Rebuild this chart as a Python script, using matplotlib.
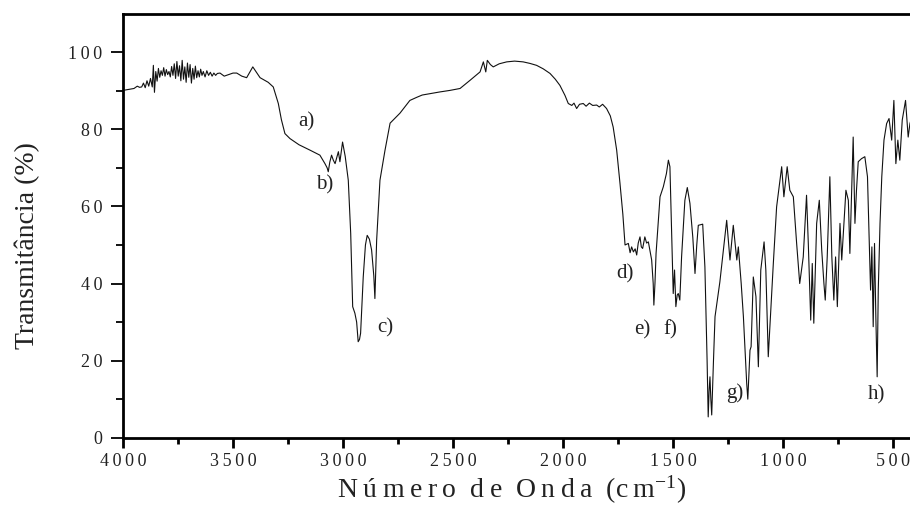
import matplotlib
matplotlib.use("Agg")
import matplotlib.pyplot as plt
from matplotlib.ticker import FixedLocator, FuncFormatter

plt.rcParams['font.family'] = ['Liberation Serif', 'DejaVu Serif']
plt.rcParams['mathtext.fontset'] = 'custom'
plt.rcParams['mathtext.rm'] = 'Liberation Serif'
plt.rcParams['mathtext.it'] = 'Liberation Serif:italic'

# --- data ---
wavenumber = [
    4000, 3970, 3950, 3935, 3925, 3915, 3907, 3899, 3891, 3883, 3875, 3867, 3862, 3857, 3851,
    3845, 3839, 3833, 3827, 3821, 3815, 3809, 3803, 3797, 3791, 3785, 3779, 3773, 3767, 3761,
    3755, 3749, 3743, 3737, 3731, 3725, 3719, 3713, 3707, 3701, 3695, 3689, 3683, 3677, 3671,
    3665, 3659, 3653, 3647, 3641, 3635, 3627, 3619, 3611, 3603, 3595, 3587, 3579, 3571, 3559,
    3540, 3520, 3500, 3483, 3460, 3438, 3410, 3377, 3340, 3317, 3294,
    3280, 3264, 3241, 3200, 3150, 3105, 3082, 3072, 3067, 3060, 3052, 3044, 3036, 3021, 3014,
    3002, 2990, 2976, 2965, 2956, 2946, 2938, 2931, 2925, 2920, 2908, 2898, 2890, 2880, 2870,
    2860, 2855, 2847, 2832, 2809, 2786, 2741, 2696, 2665, 2640, 2600, 2560, 2514, 2468, 2423,
    2377, 2362, 2351, 2344, 2330, 2317, 2290, 2256, 2220, 2181, 2150, 2120, 2090, 2059, 2035,
    2014, 1991, 1976, 1960, 1950, 1938, 1925, 1908, 1895, 1880, 1865, 1847, 1835, 1820, 1802,
    1785, 1772, 1756, 1741, 1728, 1718, 1703, 1695, 1688, 1680, 1672, 1665, 1658, 1650, 1644,
    1638, 1628, 1620, 1612, 1597, 1590, 1587, 1582, 1577, 1559, 1544, 1530, 1521, 1514, 1505,
    1499, 1493, 1487, 1481, 1476, 1469, 1461, 1446, 1435, 1423, 1410, 1400, 1392, 1385, 1365,
    1355, 1345, 1340, 1336, 1332, 1328, 1324, 1316, 1309, 1287, 1271, 1256, 1241, 1226, 1210,
    1203, 1190, 1180, 1165, 1160, 1150, 1145, 1135, 1123, 1112, 1101, 1086, 1078, 1067, 1044,
    1029, 1006, 996, 981, 969, 953, 938, 924, 908, 893, 885, 874, 867, 860, 847,
    835, 824, 814, 808, 799, 787, 778, 769, 761, 753, 741, 733, 714, 703, 696,
    688, 681, 673, 666, 658, 643, 628, 616, 608, 602, 596, 590, 584, 578, 572,
    567, 559, 551, 541, 529, 518, 506, 496, 487, 478, 469, 458, 443, 431, 423,
    410, 400,
]
transmittance = [
    90.1, 90.4, 90.6, 91.2, 90.9, 91.0, 92.0, 90.8, 92.6, 91.2, 93.2, 91.0, 96.6, 89.6, 95.0,
    92.5, 95.8, 93.5, 95.2, 94.0, 96.0, 93.8, 95.5, 94.2, 95.0, 93.6, 96.3, 94.0, 97.0, 93.2,
    97.6, 93.8, 96.5, 92.6, 97.9, 93.0, 96.2, 92.2, 97.2, 93.5, 96.8, 92.0, 95.8, 93.0, 96.4,
    93.4, 95.2, 93.6, 95.6, 94.0, 95.0, 93.6, 95.2, 94.0, 94.8, 93.8, 94.6, 94.0, 94.5, 94.6,
    93.8, 94.2, 94.6, 94.6, 93.8, 93.4, 96.2, 93.4, 92.2, 91.0, 86.7,
    82.5, 78.9, 77.6, 76.0, 74.6, 73.3, 71.1, 70.0, 69.0, 71.5, 73.3, 72.0, 71.1, 74.2, 71.6,
    76.7, 73.0, 66.8, 53.0, 34.0, 32.3, 30.0, 24.9, 25.5, 27.1, 41.7, 50.0, 52.5, 51.5, 48.7,
    42.0, 36.1, 51.3, 66.8, 74.6, 81.6, 84.2, 87.5, 88.3, 88.9, 89.3, 89.7, 90.1, 90.6, 92.7,
    94.9, 97.5, 94.9, 97.9, 96.8, 96.2, 97.0, 97.5, 97.7, 97.5, 97.1, 96.6, 95.7, 94.5, 93.0,
    91.4, 88.8, 86.7, 86.2, 86.8, 85.4, 86.5, 86.7, 86.0, 86.8, 86.2, 86.3, 85.8, 86.5, 85.4,
    83.5, 80.6, 74.6, 66.0, 58.0, 50.0, 50.4, 48.0, 49.5, 48.2, 49.0, 47.4, 50.5, 52.1, 49.5,
    49.1, 52.1, 50.5, 50.8, 46.1, 40.0, 34.4, 40.0, 47.8, 62.5, 65.1, 68.5, 72.0, 70.3, 50.0,
    37.4, 43.5, 34.0, 37.0, 37.4, 35.7, 46.9, 61.6, 64.9, 60.8, 52.0, 42.6, 50.0, 55.1, 55.4,
    44.3, 20.0, 5.4, 12.0, 15.8, 10.0, 5.9, 20.0, 31.4, 40.4, 48.7, 56.4, 46.1, 55.1, 46.1,
    49.5, 40.0, 31.4, 14.1, 10.0, 22.7, 23.6, 41.7, 36.6, 18.4, 43.5, 50.8, 43.5, 21.0, 45.2,
    59.9, 70.3, 62.5, 70.3, 64.2, 62.5, 50.4, 40.0, 46.9, 62.9, 50.4, 30.5, 45.2, 29.7, 55.6,
    61.6, 48.7, 40.0, 35.7, 46.9, 67.7, 46.9, 35.7, 46.9, 34.0, 55.6, 46.1, 64.2, 61.6, 47.8,
    64.2, 78.0, 55.6, 64.2, 71.6, 72.4, 72.9, 67.7, 50.4, 38.3, 49.5, 28.8, 50.4, 31.4, 15.8,
    38.3, 55.6, 67.7, 77.2, 81.5, 82.8, 77.2, 87.5, 71.1, 77.2, 72.0, 82.4, 87.5, 78.0, 81.5,
    84.0, 83.0,
]

band_labels = ["a)", "b)", "c)", "d)", "e)", "f)", "g)", "h)"]
band_x = [3168, 3082, 2809, 1718, 1641, 1514, 1218, 573]
band_y = [81.9, 65.5, 28.4, 42.6, 27.9, 27.9, 11.6, 11.1]

x_major = [4000, 3500, 3000, 2500, 2000, 1500, 1000, 500]
x_minor = [3750, 3250, 2750, 2250, 1750, 1250, 750]
y_major = [0, 20, 40, 60, 80, 100]
y_minor = [10, 30, 50, 70, 90]

xlabel = "N\u2009ú\u2009m\u2009e\u2009r\u2009o  d\u2009e  O\u2009n\u2009d\u2009a  (c\u2009m$^{-1}$)"
ylabel = "Transmitância (%)"

# --- figure ---
fig = plt.figure(figsize=(9.10, 5.17), dpi=100)
ax = fig.add_axes([123 / 910, 79.3 / 517, 792 / 910, 424 / 517])

ax.plot(wavenumber, transmittance, color="#111111", lw=0.8)

ax.set_xlim(4000, 400)
ax.set_ylim(0, 110)

ax.xaxis.set_major_locator(FixedLocator(x_major))
ax.xaxis.set_minor_locator(FixedLocator(x_minor))
ax.yaxis.set_major_locator(FixedLocator(y_major))
ax.yaxis.set_minor_locator(FixedLocator(y_minor))

spaced = FuncFormatter(lambda v, p: "\u2009".join(str(int(round(v)))))
ax.xaxis.set_major_formatter(spaced)
ax.yaxis.set_major_formatter(spaced)

for s in ["left", "bottom", "top"]:
    ax.spines[s].set_linewidth(2.0)
ax.spines["right"].set_visible(False)

ax.tick_params(axis="x", which="major", direction="out", length=7, width=2, pad=4,
               labelsize=13, labelcolor="#222222")
ax.tick_params(axis="x", which="minor", direction="out", length=4, width=2)
ax.tick_params(axis="y", which="major", direction="out", length=9, width=1.3, pad=6,
               labelsize=13, labelcolor="#222222")
ax.tick_params(axis="y", which="minor", direction="out", length=5, width=1.3)

ax.set_xlabel(xlabel, fontsize=20, color="#222222")
ax.set_ylabel(ylabel, fontsize=20, color="#222222")
ax.xaxis.set_label_coords(0.49, -0.085)
ax.yaxis.set_label_coords(-0.105, 0.452)

for lab, xv, yv in zip(band_labels, band_x, band_y):
    ax.text(xv, yv, lab, fontsize=15, ha="center", va="center", color="#222222")

fig.savefig("out.png", dpi=100)
